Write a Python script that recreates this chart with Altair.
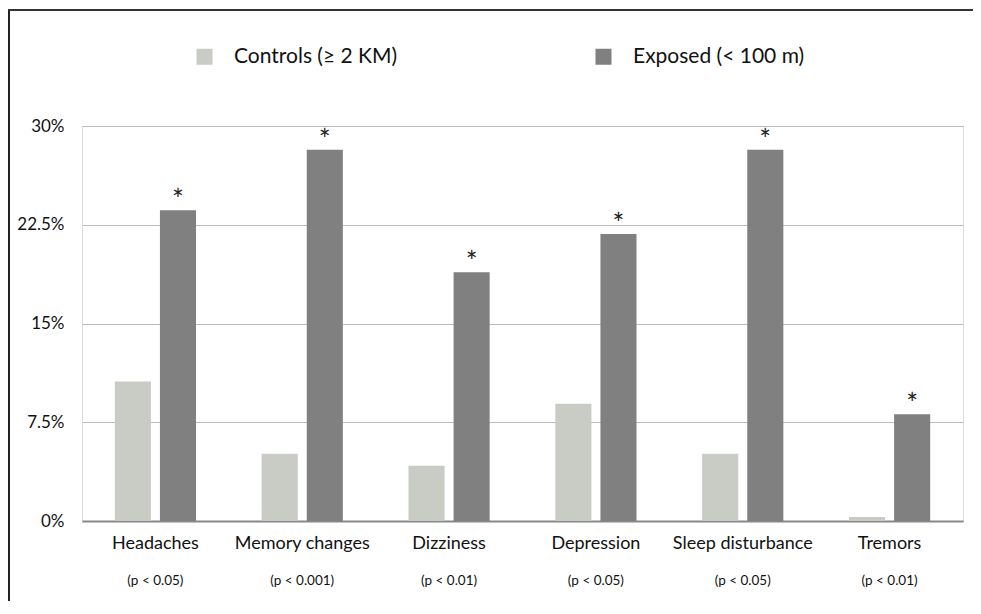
import altair as alt
import pandas as pd

categories = ["Headaches", "Memory changes", "Dizziness", "Depression", "Sleep disturbance", "Tremors"]
pvalues = ["(p < 0.05)", "(p < 0.001)", "(p < 0.01)", "(p < 0.05)", "(p < 0.05)", "(p < 0.01)"]
controls = [10.6, 5.1, 4.2, 8.9, 5.1, 0.3]
exposed = [23.6, 28.2, 18.9, 21.8, 28.2, 8.1]
groups = ["Controls (\u2265 2 KM)", "Exposed (< 100 m)"]
colors = ["#c8ccc5", "#808080"]
y_ticks = [0, 7.5, 15, 22.5, 30]

rows = []
for c, p, a, b in zip(categories, pvalues, controls, exposed):
    rows.append({"symptom": c, "p": p, "group": groups[0], "value": a})
    rows.append({"symptom": c, "p": p, "group": groups[1], "value": b})
df = pd.DataFrame(rows)
pdf = pd.DataFrame({"symptom": categories, "p": pvalues})

W, H = 881, 395
FONT = "Lato"

xscale = alt.Scale(domain=categories, paddingInner=0.447, paddingOuter=0.2235)
xenc = alt.X("symptom:N", scale=xscale, sort=categories,
             axis=alt.Axis(title=None, labelFontSize=18, labelColor="#111", labelPadding=13,
                           ticks=False, domainColor="#888", domainWidth=2, labelAngle=0,
                           grid=False, labelFont=FONT))
xoff = alt.XOffset("group:N", sort=groups, scale=alt.Scale(domain=groups, paddingInner=0.2, paddingOuter=0))

bars = alt.Chart(df).mark_bar().encode(
    x=xenc,
    xOffset=xoff,
    y=alt.Y("value:Q", scale=alt.Scale(domain=[0, 30], nice=False),
            axis=alt.Axis(title=None, values=y_ticks, labelExpr="datum.value + '%'",
                          labelFontSize=17, labelColor="#111", labelPadding=18, ticks=False,
                          domain=False, gridColor="#bbbbbb", gridWidth=1, labelFont=FONT)),
    color=alt.Color("group:N", sort=groups, scale=alt.Scale(domain=groups, range=colors),
                    legend=alt.Legend(title=None, orient="none", legendX=112, legendY=-80,
                                      direction="horizontal", symbolType="square", symbolSize=256,
                                      symbolStrokeWidth=0, labelFontSize=21, labelColor="#111",
                                      labelOffset=19, columnPadding=195, labelFont=FONT,
                                      labelLimit=400)),
)

stars = alt.Chart(df).transform_filter(alt.datum.group == groups[1]).mark_text(
    text="*", fontSize=28, baseline="middle", dy=-8, color="#222", font=FONT
).encode(x=alt.X("symptom:N", scale=xscale, sort=categories), xOffset=xoff, y="value:Q")

ptext = alt.Chart(pdf).mark_text(fontSize=13.5, baseline="middle", color="#111", font=FONT).encode(
    x=alt.X("symptom:N", scale=xscale, sort=categories),
    y=alt.value(H + 60),
    text="p:N",
)

frame_left = alt.Chart(pdf).mark_rule(color="#222", strokeWidth=2).encode(
    x=alt.value(-73), y=alt.value(-117), y2=alt.value(H + 100))
frame_top = alt.Chart(pdf).mark_rule(color="#333", strokeWidth=2).encode(
    x=alt.value(-74), x2=alt.value(W + 10), y=alt.value(-116))

chart = alt.layer(bars, stars, ptext, frame_left, frame_top).properties(
    width=W, height=H,
    autosize=alt.AutoSizeParams(type="none"),
    padding={"left": 74, "top": 118, "right": 10, "bottom": 80},
).configure_view(stroke=None).configure(background="white")

chart.save("out.html", embed_options={"renderer": "svg", "actions": False})
